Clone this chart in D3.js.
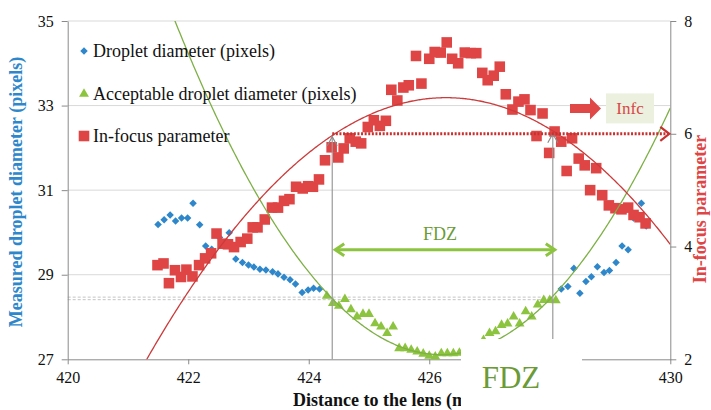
<!DOCTYPE html>
<html><head><meta charset="utf-8">
<script src="https://cdn.jsdelivr.net/npm/d3@7"></script>
<style>body{margin:0;background:#fff}svg{display:block}</style>
</head><body>
<svg id="c" width="711" height="410"></svg>
<script>
// ---------- data ----------
const xTicks = [420, 422, 424, 426, 428, 430];
const leftTicks = [27, 29, 31, 33, 35];
const rightTicks = [2, 4, 6, 8];

const dropletX = [421.50,421.60,421.70,421.79,421.89,421.99,422.08,422.19,422.29,422.39,422.52,422.59,422.68,422.79,422.90,423.00,423.09,423.19,423.29,423.40,423.49,423.59,423.69,423.78,423.89,423.99,424.08,424.18,
  428.19,428.30,428.40,428.50,428.60,428.69,428.79,428.90,428.99,429.10,429.20,429.30,429.39,429.52,429.60];
const dropletY = [30.19,30.30,30.41,30.27,30.34,30.34,30.69,30.18,29.68,29.60,29.88,29.72,29.99,29.37,29.29,29.23,29.18,29.13,29.11,29.07,29.02,28.94,28.88,28.78,28.58,28.64,28.68,28.66,
  28.66,28.72,29.15,28.56,28.84,28.95,29.19,29.05,29.10,29.29,29.68,29.59,30.34,30.69,30.15];

const acceptX = [424.3,424.4,424.5,424.6,424.7,424.8,424.9,425.0,425.1,425.2,425.3,425.4,425.5,425.6,425.7,425.8,425.9,426.0,426.1,426.2,426.3,426.4,426.5,426.6,426.7,426.8,426.9,427.0,427.1,427.2,427.3,427.4,427.5,427.6,427.7,427.8,427.9,428.0,428.1];
const acceptY = [28.50,28.33,28.26,28.42,28.18,28.01,28.07,28.07,27.85,27.77,27.62,27.77,27.26,27.26,27.22,27.18,27.13,27.08,27.06,27.14,27.14,27.14,27.15,27.15,27.20,27.30,27.45,27.62,27.66,27.81,27.84,28.01,27.84,28.13,28.01,28.29,28.40,28.40,28.39];

const infocusX = [421.49,421.59,421.68,421.78,421.88,421.97,422.07,422.18,422.28,422.38,422.47,422.57,422.66,422.76,422.87,422.98,423.07,423.15,423.27,423.39,423.49,423.59,423.68,423.79,423.90,423.99,424.07,424.17,424.27,424.38,424.49,424.58,424.68,424.78,424.87,424.98,425.08,425.18,425.28,425.37,425.47,425.57,425.66,425.78,425.87,426.00,426.09,426.19,426.29,426.38,426.48,426.59,426.69,426.78,426.88,426.97,427.07,427.17,427.27,427.38,427.48,427.58,427.68,427.78,427.88,427.99,428.08,428.19,428.28,428.37,428.48,428.58,428.67,428.77,428.87,428.98,429.09,429.19,429.30,429.39,429.49,429.59];
const infocusY = [3.67,3.70,3.35,3.58,3.46,3.59,3.47,3.67,3.79,3.88,4.23,4.05,4.04,3.99,4.08,4.14,4.34,4.34,4.48,4.69,4.69,4.81,4.84,5.06,5.03,5.07,5.06,5.19,5.53,5.76,5.58,5.74,5.92,5.86,5.83,6.12,6.24,6.14,6.23,6.78,6.59,6.82,6.86,7.38,6.89,7.33,7.45,7.44,7.62,7.33,7.25,7.44,7.43,7.43,7.08,6.95,7.03,7.19,6.70,6.43,6.57,6.61,6.42,5.96,6.36,5.66,6.04,5.86,5.34,5.92,5.56,5.44,5.00,5.39,4.91,4.73,4.68,4.66,4.69,4.56,4.52,4.41];

// quadratic trendlines: [a, vertexX, vertexY]
const acceptTrend = [0.404, 426.2, 27.11];
const infocusTrend = [-0.188, 426.28, 6.64];

const fdzBounds = [424.39, 428.05];   // FDZ limits (mm)
const infcLevel = 6;                   // in-focus threshold
const thresholdLines = [28.47, 28.41]; // acceptable diameter (dashed)
const legendLabels = ["Droplet diameter (pixels)", "Acceptable droplet diameter (pixels)", "In-focus parameter"];

// ---------- chart ----------
const svg = d3.select("#c");
const serif = "'Liberation Serif','Times New Roman',serif";
const L = 67.7, R = 670.3, T = 21, B = 359.3;
const x = d3.scaleLinear([420, 430], [L, R]);
const yL = d3.scaleLinear([27, 35], [B, T]);
const yR = d3.scaleLinear([2, 8], [B, T]);

const blue = "#2E87CB", red = "#E04545", green = "#8DC43F", dgreen = "#6B9B37";

svg.append("defs").append("clipPath").attr("id", "clip")
  .append("rect").attr("x", L).attr("y", T).attr("width", R - L).attr("height", B - T);

// gridlines
svg.append("g").selectAll("line").data(leftTicks.filter(d => d > 27)).join("line")
  .attr("x1", L).attr("x2", R).attr("y1", d => yL(d)).attr("y2", d => yL(d))
  .attr("stroke", "#d9d9d9").attr("stroke-width", 1);

// dashed threshold lines
svg.append("g").selectAll("line").data(thresholdLines).join("line")
  .attr("x1", L).attr("x2", x(fdzBounds[1])).attr("y1", d => yL(d)).attr("y2", d => yL(d))
  .attr("stroke", "#c4c4c4").attr("stroke-width", 1).attr("stroke-dasharray", "3 2");

// axes
function styleAxis(g) {
  g.attr("font-family", serif);
  g.select(".domain").attr("stroke", "#8a8a8a");
  g.selectAll(".tick line").attr("stroke", "#8a8a8a");
  g.selectAll(".tick text").attr("font-family", serif).attr("font-size", 16).attr("fill", "#111");
}
const fmt = d3.format("d");
svg.append("g").attr("transform", `translate(0,${B})`)
  .call(d3.axisBottom(x).tickValues(xTicks).tickFormat(fmt).tickSize(5).tickPadding(7).tickSizeOuter(0))
  .call(styleAxis);
svg.append("g").attr("transform", `translate(${L},0)`)
  .call(d3.axisLeft(yL).tickValues(leftTicks).tickFormat(fmt).tickSize(6).tickPadding(8).tickSizeOuter(0))
  .call(styleAxis);
svg.append("g").attr("transform", `translate(${R},0)`)
  .call(d3.axisRight(yR).tickValues(rightTicks).tickFormat(fmt).tickSize(6).tickPadding(8).tickSizeOuter(0))
  .call(styleAxis);

// axis titles
svg.append("text").attr("transform", `translate(22,192) rotate(-90)`)
  .attr("text-anchor", "middle").attr("font-family", serif).attr("font-weight", "bold")
  .attr("font-size", 18).attr("fill", blue).text("Measured droplet diameter (pixels)");
svg.append("text").attr("transform", `translate(706,209) rotate(-90)`)
  .attr("text-anchor", "middle").attr("font-family", serif).attr("font-weight", "bold")
  .attr("font-size", 18).attr("fill", red).text("In-focus parameter");
svg.append("text").attr("x", 293).attr("y", 406)
  .attr("font-family", serif).attr("font-weight", "bold")
  .attr("font-size", 18).attr("fill", "#111").text("Distance to the lens (mm)");

// series
const sym = (type, size) => d3.symbol().type(type).size(size)();
const plot = svg.append("g");
plot.selectAll(".dia").data(dropletX.map((v, i) => [v, dropletY[i]])).join("path")
  .attr("transform", d => `translate(${x(d[0])},${yL(d[1])})`)
  .attr("d", sym(d3.symbolDiamond2, 36)).attr("fill", blue);
plot.selectAll(".sq").data(infocusX.map((v, i) => [v, infocusY[i]])).join("path")
  .attr("transform", d => `translate(${x(d[0])},${yR(d[1])})`)
  .attr("d", sym(d3.symbolSquare, 112)).attr("fill", red);
plot.selectAll(".tri").data(acceptX.map((v, i) => [v, acceptY[i]])).join("path")
  .attr("transform", d => `translate(${x(d[0])},${yL(d[1])})`)
  .attr("d", sym(d3.symbolTriangle, 42)).attr("fill", green);

// trendlines
const xs = d3.range(420, 430.001, 0.02);
const quad = (c, v) => c[0] * (v - c[1]) * (v - c[1]) + c[2];
svg.append("path").attr("clip-path", "url(#clip)")
  .attr("d", d3.line()(xs.map(v => [x(v), yL(quad(acceptTrend, v))])))
  .attr("fill", "none").attr("stroke", "#7DB045").attr("stroke-width", 1.3);
svg.append("path").attr("clip-path", "url(#clip)")
  .attr("d", d3.line()(xs.map(v => [x(v), yR(quad(infocusTrend, v))])))
  .attr("fill", "none").attr("stroke", "#CC3B3B").attr("stroke-width", 1.3);

// FDZ vertical gray lines with open arrowheads
fdzBounds.forEach((b, i) => {
  const px = x(b), top = yR(infcLevel) + (i === 0 ? 3 : 0);
  svg.append("line").attr("x1", px).attr("x2", px).attr("y1", B).attr("y2", top)
    .attr("stroke", "#9a9a9a").attr("stroke-width", 1.2);
  svg.append("path").attr("d", `M${px - 5},${top + 9}L${px},${top}L${px + 5},${top + 9}`)
    .attr("fill", "none").attr("stroke", "#8a8a8a").attr("stroke-width", 1.2);
});

// red dotted in-focus level with arrowhead
const yi = yR(infcLevel);
svg.append("line").attr("x1", x(fdzBounds[0])).attr("x2", R - 2).attr("y1", yi).attr("y2", yi)
  .attr("stroke", "#C8302F").attr("stroke-width", 3).attr("stroke-dasharray", "2 1.6");
svg.append("path").attr("d", `M${R - 10},${yi - 7}L${R - 1},${yi}L${R - 10},${yi + 7}`)
  .attr("fill", "none").attr("stroke", "#C8302F").attr("stroke-width", 2.2);

// green FDZ double arrow
const ya = yL(29.59);
const ax1 = x(fdzBounds[0]) + 2, ax2 = x(fdzBounds[1]) + 3;
svg.append("line").attr("x1", ax1 + 2).attr("x2", ax2 - 2).attr("y1", ya).attr("y2", ya)
  .attr("stroke", green).attr("stroke-width", 3);
svg.append("path").attr("d", `M${ax1 + 10},${ya - 6}L${ax1 + 1},${ya}L${ax1 + 10},${ya + 6}`)
  .attr("fill", "none").attr("stroke", green).attr("stroke-width", 3);
svg.append("path").attr("d", `M${ax2 - 10},${ya - 6}L${ax2 - 1},${ya}L${ax2 - 10},${ya + 6}`)
  .attr("fill", "none").attr("stroke", green).attr("stroke-width", 3);
svg.append("text").attr("x", 440).attr("y", ya - 10).attr("text-anchor", "middle")
  .attr("font-family", serif).attr("font-size", 18).attr("fill", dgreen).text("FDZ");

// Infc arrow and box
const iy = yR(6.45);
svg.append("path")
  .attr("d", `M570,${iy - 4.5}L590,${iy - 4.5}L590,${iy - 11}L601,${iy}L590,${iy + 11}L590,${iy + 4.5}L570,${iy + 4.5}Z`)
  .attr("fill", "#E04848");
svg.append("rect").attr("x", 606).attr("y", iy - 15).attr("width", 48).attr("height", 30).attr("fill", "#EBF1DE");
svg.append("text").attr("x", 630).attr("y", iy + 6).attr("text-anchor", "middle")
  .attr("font-family", serif).attr("font-size", 17).attr("fill", "#D84848").text("Infc");

// legend
const lg = svg.append("g");
const legY = [51, 94, 136];
const legSyms = [[d3.symbolDiamond2, 36, blue], [d3.symbolTriangle, 42, green], [d3.symbolSquare, 112, red]];
legendLabels.forEach((t, i) => {
  lg.append("path").attr("transform", `translate(84,${legY[i]})`)
    .attr("d", sym(legSyms[i][0], legSyms[i][1])).attr("fill", legSyms[i][2]);
  lg.append("text").attr("x", 93).attr("y", legY[i] + 6).attr("font-family", serif)
    .attr("font-size", 18).attr("fill", "#111").text(t);
});

// white cover box and big FDZ label
svg.append("rect").attr("x", 461).attr("y", 339).attr("width", 121).attr("height", 71).attr("fill", "#fff");
svg.append("text").attr("x", 511).attr("y", 388).attr("text-anchor", "middle")
  .attr("font-family", serif).attr("font-size", 31).attr("fill", dgreen).text("FDZ");
</script>
</body></html>
